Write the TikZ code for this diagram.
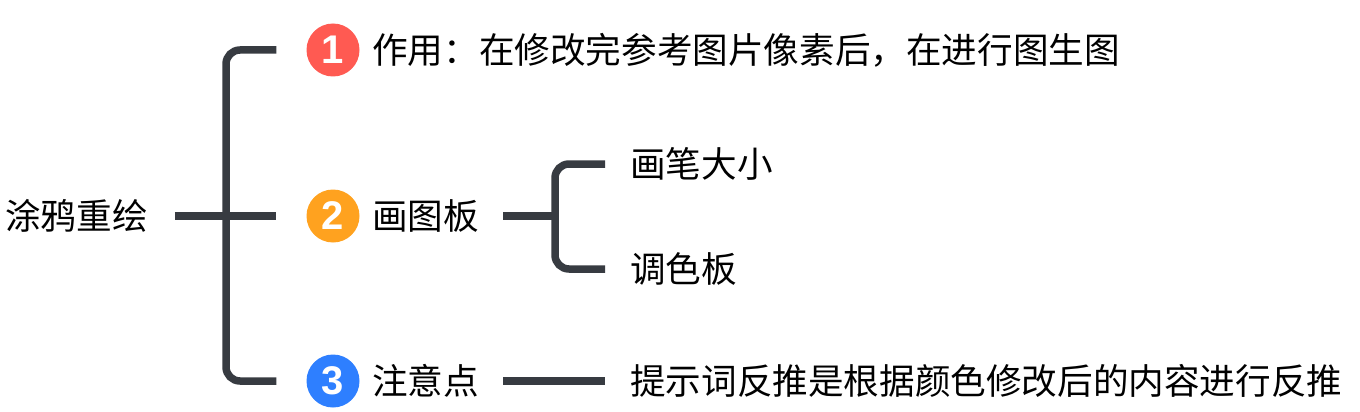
\documentclass[tikz,border=0pt]{standalone}
\usepackage{fontspec}
\newfontfamily\cjk{Noto Sans CJK SC}
\newfontfamily\numfont{Liberation Sans}
\definecolor{linec}{HTML}{373B41}
\definecolor{cone}{HTML}{FF5A52}
\definecolor{ctwo}{HTML}{FFA21F}
\definecolor{cthree}{HTML}{2E7FFF}
\begin{document}
\begin{tikzpicture}[x=1pt,y=-1pt,
  conn/.style={draw=linec, line width=7.5pt, rounded corners=14pt},
  txt/.style={font=\cjk\fontsize{35.6}{40}\selectfont, anchor=west, inner sep=0pt, text height=27pt, text depth=0pt},
  badge/.style={circle, minimum size=53pt, inner sep=0pt, text=white, font=\numfont\bfseries\fontsize{40}{40}\selectfont}]
\useasboundingbox (0,0) rectangle (1360,412);
\node[txt] (root) at (5,216) {涂鸦重绘};
\coordinate (j) at (226,216);
\node[badge, fill=cone] (b1) at (333,50) {1};
\node[badge, fill=ctwo] (b2) at (333,216) {2};
\node[badge, fill=cthree] (b3) at (333,381) {3};
\node[txt] (t1) at (372,50) {作用：在修改完参考图片像素后，在进行图生图};
\node[txt] (t2) at (372,216) {画图板};
\node[txt] (t3) at (372,381) {注意点};
\coordinate (j2) at (555,216);
\node[txt] (s1) at (630,164) {画笔大小};
\node[txt] (s2) at (630,269) {调色板};
\node[txt] (s3) at (630,381) {提示词反推是根据颜色修改后的内容进行反推};
\draw[conn] ([xshift=-30pt]b1.west) -| (j) |- ([xshift=-30pt]b3.west);
\draw[conn] ([xshift=27pt]root.east) -- ([xshift=-30pt]b2.west);
\draw[conn] ([xshift=-25pt]s1.west) -| (j2) |- ([xshift=-25pt]s2.west);
\draw[conn] ([xshift=24pt]t2.east) -- (j2);
\draw[conn] ([xshift=24pt]t3.east) -- ([xshift=-25pt]s3.west);
\end{tikzpicture}
\end{document}
